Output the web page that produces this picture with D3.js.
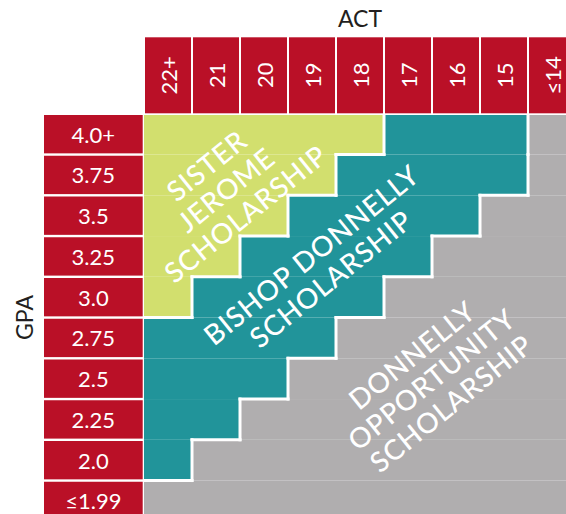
<!DOCTYPE html>
<html>
<head>
<meta charset="utf-8">
<script src="https://cdn.jsdelivr.net/npm/d3@7"></script>
<style>
  html, body { margin: 0; padding: 0; background: #fff; }
  svg { display: block; }
  text { font-family: Lato, "Open Sans", sans-serif; }
</style>
</head>
<body>
<div id="chart"></div>
<script>
// ACT columns (left = high) and GPA rows (top = high)
var actLabels = ["22+", "21", "20", "19", "18", "17", "16", "15", "\u226414"];
var gpaLabels = ["4.0+", "3.75", "3.5", "3.25", "3.0", "2.75", "2.5", "2.25", "2.0", "\u22641.99"];

// award tiers, best first
var tierNames = ["Sister Jerome Scholarship", "Bishop Donnelly Scholarship", "Donnelly Opportunity Scholarship"];
var tierLines = [
  ["SISTER", "JEROME", "SCHOLARSHIP"],
  ["BISHOP DONNELLY", "SCHOLARSHIP"],
  ["DONNELLY", "OPPORTUNITY", "SCHOLARSHIP"]
];

// last ACT column (index) that still earns the award, per GPA row (-1 = none)
var sisterJeromeThrough = [4, 3, 2, 1, 0, -1, -1, -1, -1, -1];
var bishopDonnellyThrough = [7, 7, 6, 5, 4, 3, 2, 1, 0, -1];

var width = 566, height = 514;
var red = "#ba1027", colors = ["#d2df6e", "#21949a", "#b0aeaf"];

var svg = d3.select("#chart").append("svg")
  .attr("width", width)
  .attr("height", height);

// columns: 48px step, 2px gap; rows: ~40.75px step, ~2.4px gap
var x = d3.scaleBand().domain(d3.range(actLabels.length))
  .range([144, 144 + 48 * actLabels.length])
  .paddingInner(2 / 48).paddingOuter(1 / 48);
var rowStep = 40.75;
var y = d3.scaleBand().domain(d3.range(gpaLabels.length))
  .range([113.8, 113.8 + rowStep * gpaLabels.length])
  .paddingInner(2.4 / rowStep).paddingOuter(1.2 / rowStep);

var gapX = x.step() - x.bandwidth(), gapY = y.step() - y.bandwidth();

function tierOf(r, c) {
  if (c <= sisterJeromeThrough[r]) return 0;
  if (c <= bishopDonnellyThrough[r]) return 1;
  return 2;
}

var cells = [];
gpaLabels.forEach(function(g, r) {
  actLabels.forEach(function(a, c) {
    cells.push({ r: r, c: c, tier: tierOf(r, c) });
  });
});

// award cells
function cellX(c) { return c === 0 ? x(0) - 1 : x(c) - gapX / 2; }
function cellY(r) { return r === 0 ? y(0) : y(r) - gapY / 2; }

svg.append("g").selectAll("rect")
  .data(cells)
  .enter().append("rect")
  .attr("x", function(d) { return cellX(d.c); })
  .attr("y", function(d) { return cellY(d.r); })
  .attr("width", function(d) { return x(d.c) - gapX / 2 + x.step() - cellX(d.c); })
  .attr("height", function(d) { return y(d.r) - gapY / 2 + y.step() - cellY(d.r); })
  .attr("fill", function(d) { return colors[d.tier]; });

// white edges where the tier changes
var edges = [];
cells.forEach(function(d) {
  if (d.c < actLabels.length - 1 && tierOf(d.r, d.c + 1) !== d.tier) {
    var ex = x(d.c + 1) - gapX / 2;
    edges.push({ x1: ex, y1: cellY(d.r), x2: ex, y2: y(d.r) - gapY / 2 + y.step() });
  }
  if (d.r < gpaLabels.length - 1 && tierOf(d.r + 1, d.c) !== d.tier) {
    var ey = y(d.r + 1) - gapY / 2;
    edges.push({ x1: cellX(d.c), y1: ey, x2: x(d.c) - gapX / 2 + x.step(), y2: ey });
  }
});

svg.append("g").selectAll("line")
  .data(edges)
  .enter().append("line")
  .attr("x1", function(d) { return d.x1; })
  .attr("y1", function(d) { return d.y1; })
  .attr("x2", function(d) { return d.x2; })
  .attr("y2", function(d) { return d.y2; })
  .attr("stroke", "#fff")
  .attr("stroke-width", 3)
  .attr("stroke-linecap", "square");

// ACT header boxes
var head = svg.append("g").selectAll("g")
  .data(actLabels)
  .enter().append("g");

head.append("rect")
  .attr("x", function(d, i) { return x(i); })
  .attr("y", 37.3)
  .attr("width", x.bandwidth())
  .attr("height", 76)
  .attr("fill", red);

head.append("text")
  .attr("transform", function(d, i) {
    return "translate(" + (x(i) + x.bandwidth() / 2) + ",75.3) rotate(-90)";
  })
  .attr("text-anchor", "middle")
  .attr("dominant-baseline", "central")
  .attr("fill", "#fff")
  .style("font-size", "22px")
  .text(function(d) { return d; });

// GPA row boxes
var rows = svg.append("g").selectAll("g")
  .data(gpaLabels)
  .enter().append("g");

rows.append("rect")
  .attr("x", 44)
  .attr("y", function(d, i) { return y(i); })
  .attr("width", 98.7)
  .attr("height", y.bandwidth())
  .attr("fill", red);

rows.append("text")
  .attr("x", 93.3)
  .attr("y", function(d, i) { return y(i) + y.bandwidth() / 2; })
  .attr("text-anchor", "middle")
  .attr("dominant-baseline", "central")
  .attr("fill", "#fff")
  .style("font-size", "22px")
  .text(function(d) { return d; });

// axis titles
svg.append("text")
  .attr("x", x(0) + (x(actLabels.length - 1) + x.bandwidth() - x(0)) / 2)
  .attr("y", 26.7)
  .attr("text-anchor", "middle")
  .attr("fill", "#231f20")
  .style("font-size", "23px")
  .text("ACT");

svg.append("text")
  .attr("transform", "translate(23.5,317.5) rotate(-90)")
  .attr("text-anchor", "middle")
  .attr("dominant-baseline", "central")
  .attr("fill", "#231f20")
  .style("font-size", "23px")
  .text("GPA");

// award names, placed in grid units (column, row)
var labelAt = [[1.7, 1.85], [3.68, 3.74], [5.98, 6.5]];
var lineH = 31;

tierLines.forEach(function(lines, t) {
  var cx = 144 + labelAt[t][0] * x.step();
  var cy = 113.8 + labelAt[t][1] * y.step();
  var txt = svg.append("text")
    .attr("transform", "translate(" + cx + "," + cy + ") rotate(-39)")
    .attr("text-anchor", "middle")
    .attr("fill", "#fff")
    .style("font-size", "28px")
    .style("font-weight", 500)
    .style("letter-spacing", "0.8px")
    .attr("aria-label", tierNames[t]);
  lines.forEach(function(l, i) {
    txt.append("tspan")
      .attr("x", 0)
      .attr("y", (i - (lines.length - 1) / 2) * lineH)
      .attr("dominant-baseline", "central")
      .text(l);
  });
});
</script>
</body>
</html>
